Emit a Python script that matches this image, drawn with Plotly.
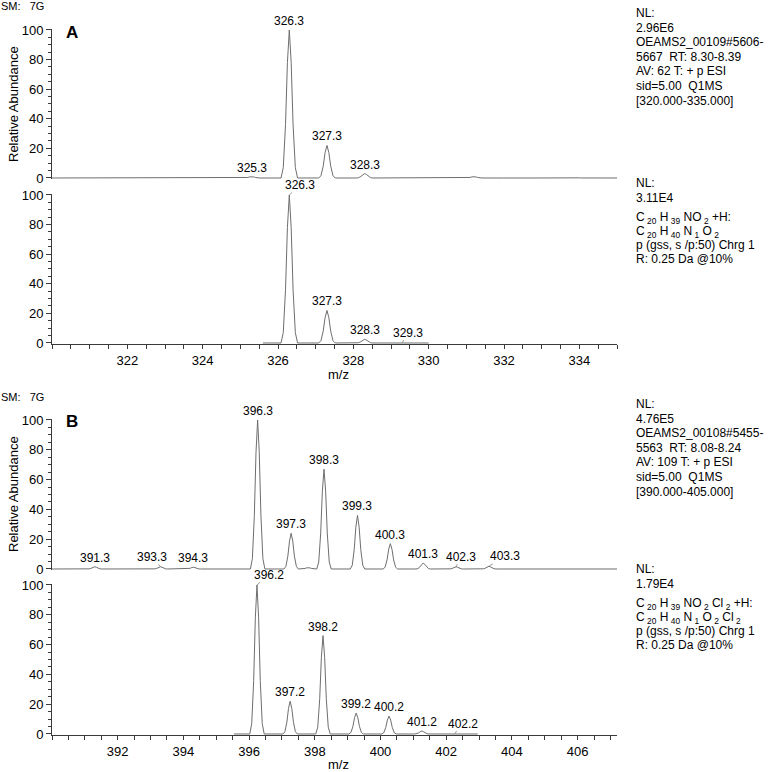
import plotly.graph_objects as go

# ── data ─────────────────────────────────────────────────────────────────────
# panel A, measured spectrum (m/z, relative abundance)
a_meas_mz = [321.3, 323.0, 324.3, 325.3, 326.3, 327.3, 328.3, 329.2, 330.2, 331.2, 332.2, 333.1, 333.9]
a_meas_int = [0.3, 0.3, 0.4, 1.0, 100, 22, 3.0, 0.4, 0.4, 1.0, 0.3, 0.3, 0.3]
a_meas_lbl_mz = [325.3, 326.3, 327.3, 328.3]
a_meas_lbl = ['325.3', '326.3', '327.3', '328.3']

# panel A, simulated isotope pattern
a_sim_mz = [326.3, 327.3, 328.3, 329.3]
a_sim_int = [100, 22, 2.5, 0.3]
a_sim_lbl = ['326.3', '327.3', '328.3', '329.3']

# panel B, measured spectrum
b_meas_mz = [391.3, 392.3, 393.3, 394.3, 395.3, 396.26, 397.28, 397.8, 398.28, 399.3, 400.3, 401.3, 402.3, 403.3, 404.3]
b_meas_int = [1.5, 0.5, 1.5, 1.2, 0.3, 100, 24, 1.0, 67, 36, 17, 4.0, 1.5, 1.8, 0.5]
b_meas_lbl_mz = [391.3, 393.3, 394.3, 396.26, 397.28, 398.28, 399.3, 400.3, 401.3, 402.3, 403.3]
b_meas_lbl = ['391.3', '393.3', '394.3', '396.3', '397.3', '398.3', '399.3', '400.3', '401.3', '402.3', '403.3']

# panel B, simulated isotope pattern
b_sim_mz = [396.24, 397.25, 398.25, 399.26, 400.26, 401.26, 402.26]
b_sim_int = [100, 22, 66, 14, 12, 2.0, 0.3]
b_sim_lbl = ['396.2', '397.2', '398.2', '399.2', '400.2', '401.2', '402.2']

a_range = [320, 335]
b_range = [390, 407.2]
a_xticks = [322, 324, 326, 328, 330, 332, 334]
b_xticks = [392, 394, 396, 398, 400, 402, 404, 406]
y_ticks = [0, 20, 40, 60, 80, 100]

sub = lambda s: '\u2009<sub>' + s + '</sub>'
a_info = ['NL:', '2.96E6', 'OEAMS2_00109#5606-', '5667\u00a0\u00a0RT: 8.30-8.39',
          'AV: 62 T: + p ESI', 'sid=5.00\u00a0\u00a0Q1MS', '[320.000-335.000]']
a_sim_info = ['NL:', '3.11E4',
              'C' + sub('20') + ' H' + sub('39') + ' NO' + sub('2') + ' +H:',
              'C' + sub('20') + ' H' + sub('40') + ' N' + sub('1') + ' O' + sub('2'),
              'p (gss, s /p:50) Chrg 1', 'R: 0.25 Da @10%']
b_info = ['NL:', '4.76E5', 'OEAMS2_00108#5455-', '5563\u00a0\u00a0RT: 8.08-8.24',
          'AV: 109 T: + p ESI', 'sid=5.00\u00a0\u00a0Q1MS', '[390.000-405.000]']
b_sim_info = ['NL:', '1.79E4',
              'C' + sub('20') + ' H' + sub('39') + ' NO' + sub('2') + ' Cl' + sub('2') + ' +H:',
              'C' + sub('20') + ' H' + sub('40') + ' N' + sub('1') + ' O' + sub('2') + ' Cl' + sub('2'),
              'p (gss, s /p:50) Chrg 1', 'R: 0.25 Da @10%']

# ── styling / geometry ───────────────────────────────────────────────────────
W, H = 774, 772
L, R = 52, 157
FONT = 'Arial, Liberation Sans, sans-serif'
LINE = '#6e6e6e'
AXIS = '#3a3a3a'
PAD = 0.8

# peak profile template (offset in m/z, fraction of apex)
shape_dx = [-0.22, -0.16, -0.1, -0.05, 0, 0.05, 0.1, 0.16, 0.22]
shape_fr = [0, 0.07, 0.36, 0.78, 1, 0.78, 0.36, 0.07, 0]

# labels drawn with a short leader line: label -> (ax, ay) pixel offset
leaders = {
    ('y2', '326.3'): (11, -10), ('y2', '329.3'): (6, -10),
    ('y3', '393.3'): (-8, -10), ('y3', '402.3'): (5, -10), ('y3', '403.3'): (16, -10),
    ('y4', '396.2'): (12, -10), ('y4', '402.2'): (8, -10),
}

# y centre of each line of the right-hand text blocks (pixels)
a_info_y = [13, 27.6, 42.2, 56.8, 71.4, 86, 100.6]
a_sim_info_y = [183, 197.5, 216.5, 230.5, 245, 259]
b_info_y = [404, 418.6, 433.2, 447.8, 462.4, 477, 491.6]
b_sim_info_y = [569, 583.5, 602.5, 616.5, 631, 645]


def profile(mz, inten, x0, x1):
    xs, ys = [x0], [0]
    for m, h in zip(mz, inten):
        for d, f in zip(shape_dx, shape_fr):
            xs.append(m + d)
            ys.append(h * f)
    xs.append(x1)
    ys.append(0)
    return xs, ys


def ydomain(p0, p100):
    s = (p0 - p100) / 100
    return [1 - (p0 + PAD * s) / H, 1 - (p100 - PAD * s) / H]


def px(x):
    return (x - L) / (W - L - R)


fig = go.Figure()

panels = [
    ('x', 'y', a_meas_mz, a_meas_int, a_range, True),
    ('x2', 'y2', a_sim_mz, a_sim_int, a_range, False),
    ('x3', 'y3', b_meas_mz, b_meas_int, b_range, True),
    ('x4', 'y4', b_sim_mz, b_sim_int, b_range, False),
]
for xa, ya, mz, inten, rng, full in panels:
    if full:
        xs, ys = profile(mz, inten, rng[0], rng[1])
    else:
        xs, ys = profile(mz, inten, mz[0] - 0.7, mz[-1] + 0.7)
    fig.add_trace(go.Scatter(
        x=xs, y=ys, xaxis=xa, yaxis=ya, mode='lines',
        line=dict(color=LINE, width=1), hoverinfo='skip', showlegend=False,
    ))

# peak labels
annotations = []
label_sets = [
    ('x', 'y', a_meas_lbl_mz, a_meas_lbl, a_meas_mz, a_meas_int),
    ('x2', 'y2', a_sim_mz, a_sim_lbl, a_sim_mz, a_sim_int),
    ('x3', 'y3', b_meas_lbl_mz, b_meas_lbl, b_meas_mz, b_meas_int),
    ('x4', 'y4', b_sim_mz, b_sim_lbl, b_sim_mz, b_sim_int),
]
for xa, ya, lmz, ltxt, mz, inten in label_sets:
    for m, t in zip(lmz, ltxt):
        h = inten[mz.index(m)]
        key = (ya, t)
        if key in leaders:
            ax, ay = leaders[key]
            annotations.append(dict(
                x=m, y=h, xref=xa, yref=ya, text=t, showarrow=True,
                ax=ax, ay=ay, arrowhead=0, arrowwidth=0.7, arrowcolor=LINE,
                standoff=0, borderpad=0,
                font=dict(size=12, color='black', family=FONT),
            ))
        else:
            annotations.append(dict(
                x=m, y=h, xref=xa, yref=ya, text=t, showarrow=False,
                yanchor='bottom', yshift=0,
                font=dict(size=12, color='black', family=FONT),
            ))


def paper_text(text, x, y, size=12, xanchor='left', yanchor='middle', **kw):
    annotations.append(dict(
        x=px(x), y=1 - y / H, xref='paper', yref='paper', text=text,
        showarrow=False, xanchor=xanchor, yanchor=yanchor, align='left',
        borderpad=0, font=dict(size=size, color='black', family=FONT), **kw,
    ))


for top in (6, 397):
    paper_text('SM:\u00a0\u00a0\u00a07G', 0, top, size=11)

paper_text('<b>A</b>', 72, 32, size=17, xanchor='center')
paper_text('<b>B</b>', 72, 421, size=17, xanchor='center')
paper_text('Relative Abundance', 13, 104, size=13, xanchor='center', textangle=-90)
paper_text('Relative Abundance', 13, 494, size=13, xanchor='center', textangle=-90)
paper_text('m/z', 338, 375, size=13, xanchor='center')
paper_text('m/z', 338, 764, size=13, xanchor='center')

for lines, ys in [(a_info, a_info_y), (a_sim_info, a_sim_info_y),
                  (b_info, b_info_y), (b_sim_info, b_sim_info_y)]:
    for t, y in zip(lines, ys):
        if '<sub>' in t:
            paper_text(t, 635, y - 7.5, yanchor='top')
        else:
            paper_text(t, 635, y)

yaxis_common = dict(
    range=[-PAD, 100 + PAD], tickvals=y_ticks, ticks='outside', ticklen=5,
    tickcolor=AXIS, showline=True, linecolor=AXIS, linewidth=1,
    showgrid=False, zeroline=False, automargin=False,
    minor=dict(dtick=5, tick0=0, ticks='outside', ticklen=3, tickcolor=AXIS),
    tickfont=dict(size=13, color='black', family=FONT),
)
xaxis_top = dict(domain=[0, 1], showline=False, showticklabels=False,
                 ticks='', showgrid=False, zeroline=False, automargin=False)
xaxis_bottom = dict(
    domain=[0, 1], showline=True, linecolor=AXIS, linewidth=1,
    ticks='outside', ticklen=4, tickcolor=AXIS,
    showgrid=False, zeroline=False, automargin=False,
    minor=dict(dtick=0.5, tick0=0, ticks='outside', ticklen=4, tickcolor=AXIS),
    tickfont=dict(size=13, color='black', family=FONT),
)

fig.update_layout(
    width=W, height=H,
    margin=dict(l=L, r=R, t=0, b=0),
    paper_bgcolor='white', plot_bgcolor='white',
    showlegend=False,
    xaxis=dict(xaxis_top, range=a_range, anchor='y'),
    xaxis2=dict(xaxis_bottom, range=a_range, tickvals=a_xticks, anchor='y2'),
    xaxis3=dict(xaxis_top, range=b_range, anchor='y3'),
    xaxis4=dict(xaxis_bottom, range=b_range, tickvals=b_xticks, anchor='y4'),
    yaxis=dict(yaxis_common, domain=ydomain(178, 30), anchor='x'),
    yaxis2=dict(yaxis_common, domain=ydomain(343, 195), anchor='x2'),
    yaxis3=dict(yaxis_common, domain=ydomain(569, 420), anchor='x3'),
    yaxis4=dict(yaxis_common, domain=ydomain(734, 585), anchor='x4'),
    annotations=annotations,
)

# the page's default body margin would push the figure 8px in; drop it
fig.write_html("out.html", config={'displayModeBar': False},
               post_script="document.body.style.margin='0px';"
                           "document.body.style.overflow='hidden';")
